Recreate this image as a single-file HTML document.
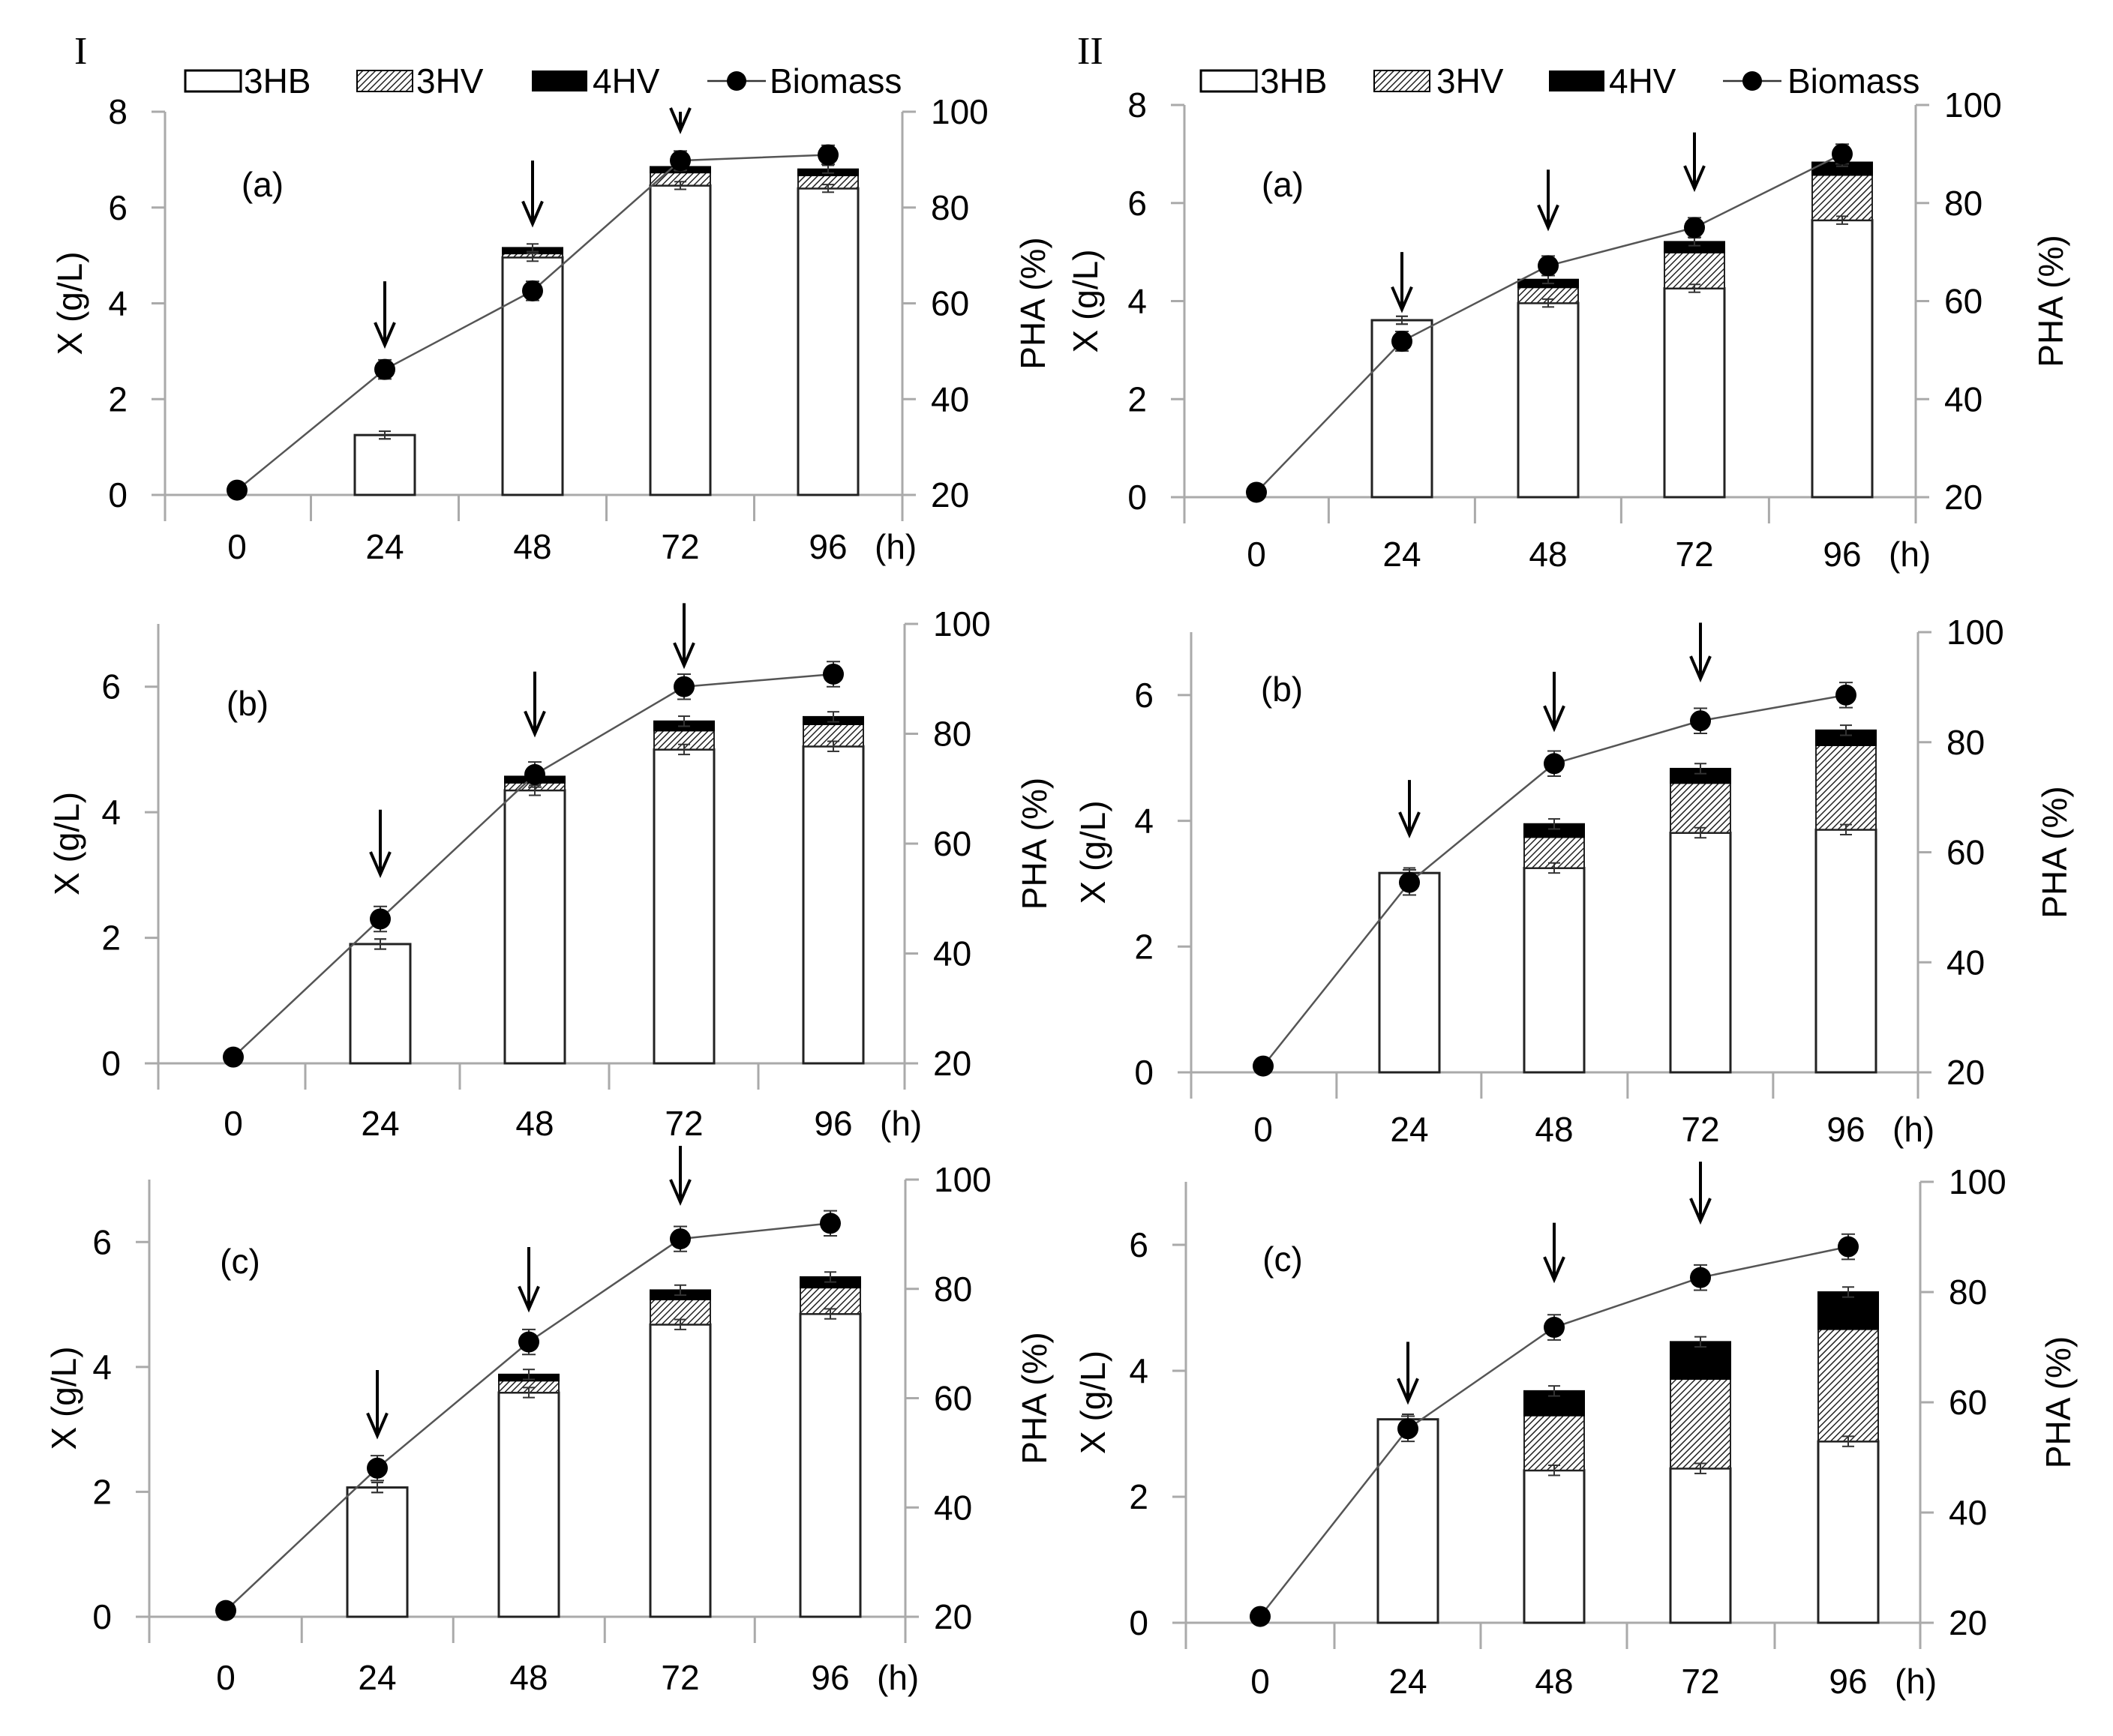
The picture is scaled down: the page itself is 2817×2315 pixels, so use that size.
<!DOCTYPE html>
<html><head><meta charset="utf-8"><style>
html,body{margin:0;padding:0;background:#fff;}
svg{display:block;font-family:"Liberation Sans",sans-serif;}
</style></head><body>
<svg id="chart" width="2817" height="2315" viewBox="0 0 2817 2315">
<defs>
<pattern id="hatch" patternUnits="userSpaceOnUse" width="6" height="6" patternTransform="rotate(45)">
<rect width="6" height="6" fill="#fff"/><line x1="0" y1="0" x2="0" y2="6" stroke="#222" stroke-width="3"/>
</pattern>
</defs>
<text x="99" y="85" font-family="Liberation Serif,serif" font-size="52">I</text>
<text x="1436" y="85" font-family="Liberation Serif,serif" font-size="52">II</text>
<g id="legends"></g>
<g id="panels"></g>
</svg>
<script>
const categories = ["0","24","48","72","96"];
const leftTicksA = [0,2,4,6,8];
const leftTicksBC = [0,2,4,6];
const rightTicks = [20,40,60,80,100];
const panelLabels = ["(a)","(b)","(c)","(a)","(b)","(c)"];

const biomass_Ia = [0.1,2.62,4.26,6.98,7.1];
const hb_Ia = [0,1.25,4.96,6.46,6.40];
const hv3_Ia = [0,0,0.08,0.27,0.27];
const hv4_Ia = [0,0,0.12,0.12,0.13];
const arrows_Ia = [[1,4.46,3.13],[2,6.98,5.66],[3,8.0,7.61]];

const biomass_Ib = [0.1,2.3,4.6,6.0,6.2];
const hb_Ib = [0,1.9,4.35,5.0,5.05];
const hv3_Ib = [0,0,0.12,0.3,0.35];
const hv4_Ib = [0,0,0.1,0.15,0.12];
const arrows_Ib = [[1,4.04,3.01],[2,6.24,5.25],[3,7.33,6.34]];

const biomass_Ic = [0.1,2.38,4.4,6.05,6.3];
const hb_Ic = [0,2.07,3.59,4.68,4.85];
const hv3_Ic = [0,0,0.19,0.4,0.42];
const hv4_Ic = [0,0,0.1,0.15,0.17];
const arrows_Ic = [[1,3.95,2.9],[2,5.92,4.93],[3,7.54,6.64]];

const biomass_IIa = [0.1,3.18,4.72,5.5,7.0];
const hb_IIa = [0,3.61,3.96,4.26,5.65];
const hv3_IIa = [0,0,0.32,0.73,0.92];
const hv4_IIa = [0,0,0.16,0.22,0.26];
const arrows_IIa = [[1,5.0,3.83],[2,6.68,5.5],[3,7.44,6.3]];

const biomass_IIb = [0.1,3.02,4.91,5.59,6.0];
const hb_IIb = [0,3.17,3.25,3.81,3.86];
const hv3_IIb = [0,0,0.49,0.79,1.34];
const hv4_IIb = [0,0,0.21,0.23,0.24];
const arrows_IIb = [[1,4.65,3.78],[2,6.37,5.47],[3,7.15,6.26]];

const biomass_IIc = [0.1,3.08,4.69,5.48,5.97];
const hb_IIc = [0,3.23,2.42,2.45,2.88];
const hv3_IIc = [0,0,0.87,1.42,1.78];
const hv4_IIc = [0,0,0.39,0.59,0.59];
const arrows_IIc = [[1,4.46,3.52],[2,6.35,5.45],[3,7.32,6.38]];

const NS="http://www.w3.org/2000/svg";
function mk(tag, attrs, parent){const e=document.createElementNS(NS,tag);for(const k in attrs)e.setAttribute(k,attrs[k]);parent.appendChild(e);return e;}

const panels = [
 {id:"Ia", L:220,R:1203,top:149,bot:660,ymax:8,lt:leftTicksA,cx:[316,513,710,907,1104],xl:745,lab:[350,262],yt:94,rt:1378,b:biomass_Ia,h:hb_Ia,v3:hv3_Ia,v4:hv4_Ia,ar:arrows_Ia,pl:panelLabels[0]},
 {id:"Ib", L:211,R:1206,top:832,bot:1418,ymax:7,lt:leftTicksBC,cx:[311,507,713,912,1111],xl:1514,lab:[330,954],yt:90,rt:1380,b:biomass_Ib,h:hb_Ib,v3:hv3_Ib,v4:hv4_Ib,ar:arrows_Ib,pl:panelLabels[1]},
 {id:"Ic", L:199,R:1207,top:1573,bot:2156,ymax:7,lt:leftTicksBC,cx:[301,503,705,907,1107],xl:2253,lab:[320,1698],yt:86,rt:1380,b:biomass_Ic,h:hb_Ic,v3:hv3_Ic,v4:hv4_Ic,ar:arrows_Ic,pl:panelLabels[2]},
 {id:"IIa", L:1579,R:2554,top:140,bot:663,ymax:8,lt:leftTicksA,cx:[1675,1869,2064,2259,2456],xl:755,lab:[1710,262],yt:1448,rt:2735,b:biomass_IIa,h:hb_IIa,v3:hv3_IIa,v4:hv4_IIa,ar:arrows_IIa,pl:panelLabels[3]},
 {id:"IIb", L:1588,R:2557,top:843,bot:1430,ymax:7,lt:leftTicksBC,cx:[1684,1879,2072,2267,2461],xl:1522,lab:[1709,935],yt:1458,rt:2740,b:biomass_IIb,h:hb_IIb,v3:hv3_IIb,v4:hv4_IIb,ar:arrows_IIb,pl:panelLabels[4]},
 {id:"IIc", L:1581,R:2560,top:1576,bot:2164,ymax:7,lt:leftTicksBC,cx:[1680,1877,2072,2267,2464],xl:2258,lab:[1710,1695],yt:1458,rt:2745,b:biomass_IIc,h:hb_IIc,v3:hv3_IIc,v4:hv4_IIc,ar:arrows_IIc,pl:panelLabels[5]}
];

const root=document.getElementById("panels");
const FS=46, AX="#aaa", BW=80;
panels.forEach(p=>{
 const g=mk("g",{},root);
 
 
 const y=v=>p.bot-(v/p.ymax)*(p.bot-p.top);
 const yr=v=>p.bot-((v-20)/80)*(p.bot-p.top);
 const step=(p.cx[4]-p.cx[0])/4;
 const la=mk("line",{x1:p.L,y1:p.top,x2:p.L,y2:p.bot+35,stroke:AX,"stroke-width":3},g);
 
 
 const ra=mk("line",{x1:p.R,y1:p.top,x2:p.R,y2:p.bot+35,stroke:AX,"stroke-width":3},g);
 
 
 const xa=mk("line",{x1:p.L-18,y1:p.bot,x2:p.R+18,y2:p.bot,stroke:AX,"stroke-width":3},g);
 
 
 for(let i=1;i<5;i++){const bx=p.cx[i]-step/2;mk("line",{x1:bx,y1:p.bot,x2:bx,y2:p.bot+35,stroke:AX,"stroke-width":3},g);}
 p.lt.forEach(t=>{
  mk("line",{x1:p.L-18,y1:y(t),x2:p.L,y2:y(t),stroke:AX,"stroke-width":3},g);
  const tx=mk("text",{x:p.L-50,y:y(t)+16,"font-size":FS,"text-anchor":"end"},g);tx.textContent=t;
  
  
 });
 rightTicks.forEach(t=>{
  mk("line",{x1:p.R,y1:yr(t),x2:p.R+18,y2:yr(t),stroke:AX,"stroke-width":3},g);
  const tx=mk("text",{x:p.R+38,y:yr(t)+16,"font-size":FS},g);tx.textContent=t;
  
  
 });
 categories.forEach((c,i)=>{
  const tx=mk("text",{x:p.cx[i],y:p.xl,"font-size":FS,"text-anchor":"middle"},g);tx.textContent=c;
  
  
 });
 const hu=mk("text",{x:p.cx[4]+62,y:p.xl,"font-size":FS},g);hu.textContent="(h)";
 
 
 const ytl=mk("text",{x:0,y:0,"font-size":FS,"text-anchor":"middle",transform:`translate(${p.yt+15},${(p.top+p.bot)/2}) rotate(-90)`},g);ytl.textContent="X (g/L)";
 
 
 const rtl=mk("text",{x:0,y:0,"font-size":FS,"text-anchor":"middle",transform:`translate(${p.rt+15},${(p.top+p.bot)/2}) rotate(-90)`},g);rtl.textContent="PHA (%)";
 
 
 const pl=mk("text",{x:p.lab[0],y:p.lab[1],"font-size":FS,"text-anchor":"middle"},g);pl.textContent=p.pl;
 
 
 categories.forEach((c,i)=>{
  if(p.h[i]<=0)return;
  const x0=p.cx[i]-BW/2;
  const a=p.h[i], b=a+p.v3[i], d=b+p.v4[i];
  const r1=mk("rect",{x:x0,y:y(a),width:BW,height:y(0)-y(a),fill:"#fff",stroke:"#222","stroke-width":3},g);
  
  
  if(p.v3[i]>0){const r2=mk("rect",{x:x0,y:y(b),width:BW,height:y(a)-y(b),fill:"url(#hatch)",stroke:"#222","stroke-width":2},g);
   
   }
  if(p.v4[i]>0){const r3=mk("rect",{x:x0,y:y(d),width:BW,height:y(b)-y(d),fill:"#000",stroke:"#000","stroke-width":2},g);
   
   }
  [a,d].forEach(v=>{
   const e=0.08;
   mk("line",{x1:p.cx[i],y1:y(v-e),x2:p.cx[i],y2:y(v+e),stroke:"#333","stroke-width":2},g);
   mk("line",{x1:p.cx[i]-8,y1:y(v-e),x2:p.cx[i]+8,y2:y(v-e),stroke:"#333","stroke-width":2},g);
   mk("line",{x1:p.cx[i]-8,y1:y(v+e),x2:p.cx[i]+8,y2:y(v+e),stroke:"#333","stroke-width":2},g);
  });
 });
 const pts=p.b.map((v,i)=>p.cx[i]+","+y(v)).join(" ");
 const ln=mk("polyline",{points:pts,fill:"none",stroke:"#555","stroke-width":2.5},g);
 
 
 p.b.forEach((v,i)=>{
  if(i>0){const e=0.2;
   mk("line",{x1:p.cx[i],y1:y(v-e),x2:p.cx[i],y2:y(v+e),stroke:"#333","stroke-width":2},g);
   mk("line",{x1:p.cx[i]-9,y1:y(v-e),x2:p.cx[i]+9,y2:y(v-e),stroke:"#333","stroke-width":2},g);
   mk("line",{x1:p.cx[i]-9,y1:y(v+e),x2:p.cx[i]+9,y2:y(v+e),stroke:"#333","stroke-width":2},g);}
  const dot=mk("circle",{cx:p.cx[i],cy:y(v),r:14,fill:"#000"},g);
  
  
 });
 p.ar.forEach(a=>{
  const x=p.cx[a[0]], y1=y(a[1]), y2=y(a[2]);
  const ar=mk("path",{d:`M${x},${y1} L${x},${y2} M${x-13},${y2-30} L${x},${y2} L${x+13},${y2-30}`,fill:"none",stroke:"#000","stroke-width":4},g);
  
  
 });
});

const lg=document.getElementById("legends");
[[247,325,476,555,709,790,943,1026],[1601,1680,1832,1915,2065,2145,2297,2383]].forEach((L,k)=>{
 const g=mk("g",{},lg);
 
 
 const yb=94,h=28,ty=124;
 const b1=mk("rect",{x:L[0],y:yb,width:74,height:h,fill:"#fff",stroke:"#000","stroke-width":3},g);
 
 
 const t1=mk("text",{x:L[1],y:ty,"font-size":FS},g);t1.textContent="3HB";
 
 
 const b2=mk("rect",{x:L[2],y:yb,width:74,height:h,fill:"url(#hatch)",stroke:"#000","stroke-width":2},g);
 
 
 const t2=mk("text",{x:L[3],y:ty,"font-size":FS},g);t2.textContent="3HV";
 
 
 const b3=mk("rect",{x:L[4],y:yb,width:74,height:h,fill:"#000"},g);
 
 
 const t3=mk("text",{x:L[5],y:ty,"font-size":FS},g);t3.textContent="4HV";
 
 
 mk("line",{x1:L[6],y1:yb+h/2,x2:L[6]+78,y2:yb+h/2,stroke:"#333","stroke-width":2.5},g);
 mk("circle",{cx:L[6]+39,cy:yb+h/2,r:13,fill:"#000"},g);
 const t4=mk("text",{x:L[7],y:ty,"font-size":FS},g);t4.textContent="Biomass";
 
 
});
</script>
</body></html>
